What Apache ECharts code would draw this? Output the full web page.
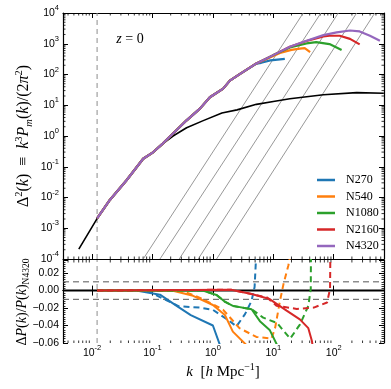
<!DOCTYPE html>
<html>
<head>
<meta charset="utf-8">
<script src="https://cdn.jsdelivr.net/npm/echarts@6/dist/echarts.min.js"></script>
<style>
  html, body { margin: 0; padding: 0; background: #fff; }
  #chart { width: 391px; height: 389px; }
</style>
</head>
<body>
<div id="chart"></div>
<script>
// linear theory Delta^2(k), k in h/Mpc
const kLin = [0.00603, 0.01216, 0.0197, 0.0372, 0.0701, 0.102, 0.151, 0.219, 0.367, 0.692, 1.41, 2.51, 5.25, 10, 18.8, 67.6, 240, 676];
const deltaLin = [0.000209, 0.00209, 0.0083, 0.0363, 0.182, 0.295, 0.575, 1.0, 1.86, 3.16, 5.62, 7.08, 10.7, 13.2, 16.2, 21.9, 25.7, 24.5];

// low-k part shared by all runs
const kLow = [0.0121, 0.0197, 0.0372, 0.0701, 0.102, 0.151, 0.367, 0.61, 0.891, 1.48, 1.91, 2.82];
const deltaLow = [0.00209, 0.0083, 0.0363, 0.182, 0.295, 0.589, 3.24, 7.76, 18.2, 34.7, 63.1, 105];

const runNames = ['N270', 'N540', 'N1080', 'N2160', 'N4320'];
const runColors = ['#1f77b4', '#ff7f0e', '#2ca02c', '#d62728', '#9467bd'];

// high-k part of each run
const kTail = [
  [5.25, 6.31, 8.91, 15.5],
  [5.25, 10, 12.9, 20, 27.5, 33.1, 40.7],
  [5.25, 10, 18.8, 35.5, 51.3, 85.1, 135],
  [5.25, 10, 18.8, 35.5, 67.6, 85.1, 126, 186, 269],
  [5.25, 10, 18.8, 35.5, 67.6, 112, 186, 269, 398, 582]
];
const deltaTail = [
  [225, 240, 288, 324],
  [229, 398, 501, 631, 692, 724, 537],
  [229, 427, 759, 1023, 1122, 977, 631],
  [229, 427, 794, 1230, 1738, 1820, 1820, 1445, 955],
  [229, 427, 794, 1259, 1905, 2344, 2692, 2512, 1820, 1259]
];

// shot noise lines: k where they cross 1e-4 and 1e4
const shotKLow = [0.0702, 0.133, 0.277, 0.571, 1.15];
const shotKHigh = [31.3, 61.4, 119, 240, 479];

const kBox = 0.0121; // box scale

// relative difference to N4320, solid and dashed
const ratioK = [
  [0.0121, 0.054, 0.133, 0.251, 0.43, 1.0, 1.35],
  [0.0121, 0.21, 0.47, 1.0, 1.58, 2.14, 3.55],
  [0.0121, 0.68, 1.15, 1.6, 2.14, 4.37, 6.0, 8.7, 11.5],
  [0.0121, 2.0, 4.37, 8.7, 16.6, 27.5, 38, 43.7, 45]
];
const ratioV = [
  [0, 0, -0.0047, -0.0175, -0.028, -0.040, -0.065],
  [0, 0, -0.006, -0.0165, -0.028, -0.047, -0.062],
  [0, 0, -0.005, -0.013, -0.0175, -0.0214, -0.035, -0.045, -0.062],
  [0, 0.001, -0.004, -0.0097, -0.023, -0.033, -0.043, -0.058, -0.065]
];
const ratioDashK = [
  [0.0121, 0.08, 0.148, 0.275, 0.6, 1.0, 1.9, 2.45, 3.4, 4.37, 4.9, 5.2],
  [0.0121, 0.3, 0.6, 1.0, 1.48, 2.75, 5.25, 9.3, 10.7, 12.9, 14.8, 17.8, 19],
  [0.0121, 0.68, 1.15, 1.6, 2.14, 4.37, 6.8, 11.5, 19, 27.5, 38, 41.7, 42],
  [0.0121, 2.0, 4.37, 7.9, 11.4, 24.5, 46.8, 77.6, 87, 88]
];
const ratioDashV = [
  [0, 0, -0.009, -0.018, -0.0195, -0.022, -0.035, -0.041, -0.027, -0.0117, 0.004, 0.04],
  [0, 0, -0.008, -0.0156, -0.022, -0.043, -0.053, -0.055, -0.043, -0.0117, 0.008, 0.029, 0.04],
  [0, 0, -0.005, -0.013, -0.0175, -0.0214, -0.031, -0.037, -0.055, -0.039, -0.0175, 0.002, 0.04],
  [0, 0.001, -0.004, -0.008, -0.0175, -0.021, -0.0195, -0.0137, 0.002, 0.04]
];

const xMin = 0.0033, xMax = 680;
const xMinor = [], yMinor = [];
for (let e = -3; e <= 2; e++) for (let m = 2; m <= 9; m++) {
  const v = m * Math.pow(10, e);
  if (v > xMin && v < xMax) xMinor.push(v);
}
for (let e = -4; e <= 3; e++) for (let m = 2; m <= 9; m++) yMinor.push(m * Math.pow(10, e));

const zip = (a, b) => a.map((v, i) => [v, b[i]]);

const tickFont = 'Liberation Sans';
const mathFont = 'Liberation Serif';

const gridTop = { left: 63, top: 13, width: 321, height: 246 };
const gridBot = { left: 63, top: 260, width: 321, height: 83 };

function powLabel(v) {
  const e = Math.log10(v);
  if (Math.abs(e - Math.round(e)) > 1e-6) return '';
  const n = Math.round(e);
  return '{b|10}{sup|' + (n < 0 ? '-' + (-n) : n) + '}';
}
const powRich = {
  b: { fontFamily: tickFont, fontSize: 10.5, lineHeight: 18, color: '#000' },
  sup: { fontFamily: tickFont, fontSize: 7.5, lineHeight: 8, verticalAlign: 'top', color: '#000' }
};

const axisLine = { lineStyle: { color: '#000', width: 1.2 } };
const majorTick = { inside: true, length: 5, lineStyle: { color: '#000', width: 1 } };

function xAxisOf(grid, pos, labels) {
  return {
    type: 'log', logBase: 10, gridIndex: grid, position: pos, min: xMin, max: xMax,
    axisLine: axisLine, axisTick: majorTick, splitLine: { show: false },
    axisLabel: { show: labels, margin: 1, formatter: powLabel, rich: powRich }
  };
}

const series = [];

// top panel
series.push({
  type: 'line', xAxisIndex: 0, yAxisIndex: 0, data: zip(kLin, deltaLin), symbol: 'none',
  lineStyle: { color: '#000', width: 1.6 }, z: 3
});
shotKLow.forEach((k, i) => {
  series.push({
    type: 'line', xAxisIndex: 0, yAxisIndex: 0, data: [[k, 1e-4], [shotKHigh[i], 1e4]], symbol: 'none',
    lineStyle: { color: '#8c8c8c', width: 0.9 }, z: 2
  });
});
series.push({
  type: 'line', xAxisIndex: 0, yAxisIndex: 0, data: [[kBox, 1e-4], [kBox, 1e4]], symbol: 'none',
  lineStyle: { color: '#8c8c8c', width: 1, type: [5, 4] }, z: 2
});
runNames.forEach((name, i) => {
  series.push({
    name: name, type: 'line', xAxisIndex: 0, yAxisIndex: 0, symbol: 'none',
    data: zip(kLow, deltaLow).concat(zip(kTail[i], deltaTail[i])),
    lineStyle: { color: runColors[i], width: 2.2 }, itemStyle: { color: runColors[i] }, z: 4 + i
  });
});

// bottom panel
series.push({
  type: 'line', xAxisIndex: 2, yAxisIndex: 2, data: [[xMin, 0], [xMax, 0]], symbol: 'none',
  lineStyle: { color: '#000', width: 2 }, z: 3
});
[0.01, -0.01].forEach(v => {
  series.push({
    type: 'line', xAxisIndex: 2, yAxisIndex: 2, data: [[xMin, v], [xMax, v]], symbol: 'none',
    lineStyle: { color: '#555', width: 1, type: [6, 4] }, z: 2
  });
});
series.push({
  type: 'line', xAxisIndex: 2, yAxisIndex: 2, data: [[kBox, -0.06], [kBox, 0.035]], symbol: 'none',
  lineStyle: { color: '#8c8c8c', width: 1, type: [5, 4] }, z: 2
});
ratioK.forEach((ks, i) => {
  series.push({
    type: 'line', xAxisIndex: 2, yAxisIndex: 2, symbol: 'none', data: zip(ks, ratioV[i]),
    lineStyle: { color: runColors[i], width: 2 }, z: 4 + i
  });
  series.push({
    type: 'line', xAxisIndex: 2, yAxisIndex: 2, symbol: 'none', data: zip(ratioDashK[i], ratioDashV[i]),
    lineStyle: { color: runColors[i], width: 2, type: [6, 4] }, z: 4 + i
  });
});

const chart = echarts.init(document.getElementById('chart'));
chart.setOption({
  animation: false,
  backgroundColor: '#fff',
  grid: [
    Object.assign({ outerBoundsMode: 'none' }, gridTop),
    Object.assign({ outerBoundsMode: 'none' }, gridBot)
  ],
  xAxis: [
    xAxisOf(0, 'bottom', false),
    xAxisOf(0, 'top', false),
    xAxisOf(1, 'bottom', true),
    xAxisOf(1, 'top', false)
  ],
  yAxis: [
    {
      type: 'log', logBase: 10, gridIndex: 0, position: 'left', min: 1e-4, max: 1e4, splitNumber: 8,
      axisLine: axisLine, axisTick: majorTick, splitLine: { show: false },
      axisLabel: { margin: 4, formatter: powLabel, rich: powRich }
    },
    {
      type: 'log', logBase: 10, gridIndex: 0, position: 'right', min: 1e-4, max: 1e4, splitNumber: 8,
      axisLine: axisLine, axisTick: majorTick, splitLine: { show: false }, axisLabel: { show: false }
    },
    {
      type: 'value', gridIndex: 1, position: 'left', min: -0.06, max: 0.035, interval: 0.02,
      axisLine: axisLine, axisTick: majorTick, splitLine: { show: false },
      minorTick: { show: true, splitNumber: 8, length: 2.5, lineStyle: { color: '#000', width: 0.8 } },
      axisLabel: {
        margin: 4, showMaxLabel: false, fontFamily: tickFont, fontSize: 10.5, color: '#000',
        formatter: v => (Math.abs(v) < 1e-9 ? '0.00' : v.toFixed(2).replace('-', '\u2212'))
      }
    },
    {
      type: 'value', gridIndex: 1, position: 'right', min: -0.06, max: 0.035, interval: 0.02,
      axisLine: axisLine, axisTick: majorTick, splitLine: { show: false },
      minorTick: { show: true, splitNumber: 8, length: 2.5, lineStyle: { color: '#000', width: 0.8 } },
      axisLabel: { show: false }
    }
  ],
  legend: {
    data: runNames, orient: 'vertical', left: 312, top: 168,
    icon: 'rect', itemWidth: 18, itemHeight: 2.5, itemGap: 2.5,
    textStyle: { fontFamily: mathFont, fontSize: 12, color: '#000', lineHeight: 14, padding: [0, 0, 0, 6] }
  },
  series: series
});

// minor ticks (2..9 x 10^n) of the log axes, placed with the axes' own scales
const minor = [];
const tick = (x1, y1, x2, y2) => minor.push({
  type: 'line', shape: { x1: x1, y1: y1, x2: x2, y2: y2 },
  style: { stroke: '#000', lineWidth: 0.8 }, silent: true
});
const L = 2.5;
xMinor.forEach(v => {
  const xt = chart.convertToPixel({ xAxisIndex: 0 }, v);
  const xb = chart.convertToPixel({ xAxisIndex: 2 }, v);
  [[gridTop, xt], [gridBot, xb]].forEach(([g, x]) => {
    tick(x, g.top + g.height, x, g.top + g.height - L);
    tick(x, g.top, x, g.top + L);
  });
});
yMinor.forEach(v => {
  const y = chart.convertToPixel({ yAxisIndex: 0 }, v);
  tick(gridTop.left, y, gridTop.left + L, y);
  tick(gridTop.left + gridTop.width, y, gridTop.left + gridTop.width - L, y);
});

chart.setOption({
  graphic: [
    { type: 'group', z: 50, children: minor },
    {
      type: 'text', x: 130, y: 39,
      style: {
        text: '{i|z}{r| = 0}', textAlign: 'center', textVerticalAlign: 'middle',
        rich: {
          i: { fontFamily: mathFont, fontStyle: 'italic', fontSize: 14, fill: '#000' },
          r: { fontFamily: mathFont, fontSize: 14, fill: '#000' }
        }
      }
    },
    {
      type: 'text', x: 24, y: 136, rotation: Math.PI / 2,
      style: {
        text: '{r|\u0394}{sup|2}{r|(}{i|k}{r|)  \u2261  }{i|k}{sup|3}{i|P}{sub|m}{r|(}{i|k}{r|)/(2}{i|\u03c0}{sup|2}{r|)}',
        textAlign: 'center', textVerticalAlign: 'middle',
        rich: {
          r: { fontFamily: mathFont, fontSize: 16, lineHeight: 21, fill: '#000' },
          i: { fontFamily: mathFont, fontStyle: 'italic', fontSize: 16, lineHeight: 21, fill: '#000' },
          sup: { fontFamily: mathFont, fontSize: 10.5, lineHeight: 11, verticalAlign: 'top', fill: '#000' },
          sub: { fontFamily: mathFont, fontStyle: 'italic', fontSize: 10.5, lineHeight: 11, verticalAlign: 'bottom', fill: '#000' }
        }
      }
    },
    {
      type: 'text', x: 22, y: 302, rotation: Math.PI / 2,
      style: {
        text: '{r|\u0394}{i|P}{r|(}{i|k}{r|)/}{i|P}{r|(}{i|k}{r|)}{sub|N4320}',
        textAlign: 'center', textVerticalAlign: 'middle',
        rich: {
          r: { fontFamily: mathFont, fontSize: 14, lineHeight: 18, fill: '#000' },
          i: { fontFamily: mathFont, fontStyle: 'italic', fontSize: 14, lineHeight: 18, fill: '#000' },
          sub: { fontFamily: mathFont, fontSize: 9.5, lineHeight: 10, verticalAlign: 'bottom', fill: '#000' }
        }
      }
    },
    {
      type: 'text', x: 223, y: 372,
      style: {
        text: '{i|k}{r|  [}{i|h}{r| Mpc}{sup|\u22121}{r|]}',
        textAlign: 'center', textVerticalAlign: 'middle',
        rich: {
          r: { fontFamily: mathFont, fontSize: 15, lineHeight: 20, fill: '#000' },
          i: { fontFamily: mathFont, fontStyle: 'italic', fontSize: 15, lineHeight: 20, fill: '#000' },
          sup: { fontFamily: mathFont, fontSize: 10, lineHeight: 10, verticalAlign: 'top', fill: '#000' }
        }
      }
    }
  ]
});
</script>
</body>
</html>
